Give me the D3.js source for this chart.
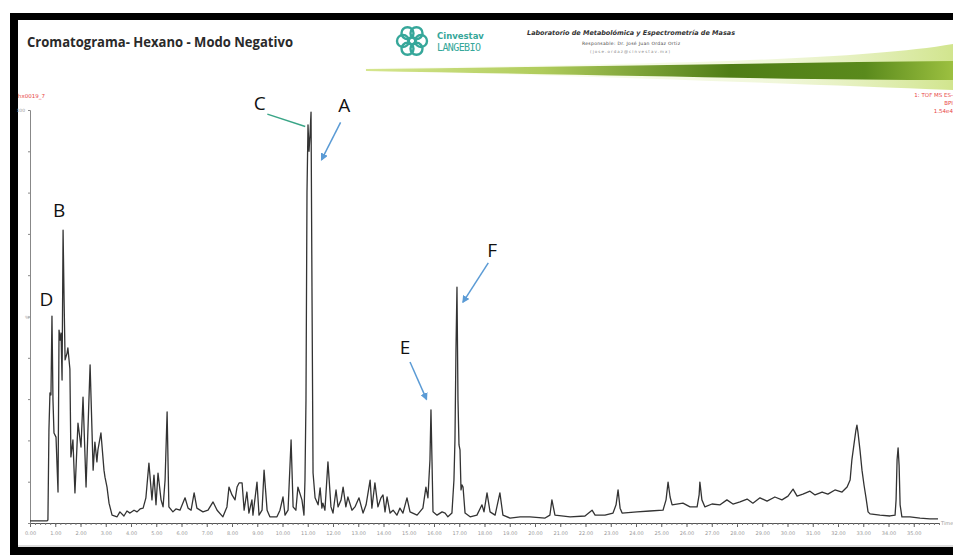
<!DOCTYPE html>
<html>
<head>
<meta charset="utf-8">
<script src="https://cdn.jsdelivr.net/npm/d3@7"></script>
<style>
  body { margin: 0; background: #fff; }
  svg { display: block; }
</style>
</head>
<body>
<svg id="chart" width="953" height="556"></svg>
<script>
// retention time (min) and relative intensity (%)
const rtTime = [
  0.00, 0.67, 0.71, 0.75, 0.79, 0.83, 0.87, 0.91, 0.95, 1.03, 1.11, 1.15, 1.19, 1.23, 1.27, 1.31, 1.35, 1.39,
  1.47, 1.50, 1.58, 1.62, 1.70, 1.78, 1.90, 2.02, 2.10, 2.22, 2.38, 2.50, 2.57, 2.65, 2.69, 2.81, 2.93, 2.97,
  3.05, 3.13, 3.25, 3.45, 3.56, 3.72, 3.84, 3.96, 4.12, 4.24, 4.36, 4.48, 4.59, 4.71, 4.83, 4.91, 4.99, 5.07,
  5.19, 5.27, 5.35, 5.43, 5.50, 5.66, 5.78, 5.94, 6.14, 6.26, 6.38, 6.50, 6.61, 6.85, 7.05, 7.25, 7.41, 7.64,
  7.80, 7.88, 8.00, 8.12, 8.20, 8.28, 8.40, 8.48, 8.59, 8.67, 8.79, 8.83, 8.99, 9.07, 9.19, 9.27, 9.39, 9.50,
  9.78, 9.90, 10.02, 10.10, 10.22, 10.34, 10.42, 10.53, 10.61, 10.77, 10.85, 10.89, 10.93, 10.97, 11.01, 11.05,
  11.09, 11.13, 11.17, 11.21, 11.29, 11.41, 11.49, 11.56, 11.60, 11.68, 11.80, 11.92, 12.00, 12.12, 12.20,
  12.32, 12.40, 12.51, 12.59, 12.75, 12.87, 13.03, 13.19, 13.31, 13.47, 13.54, 13.66, 13.78, 13.90, 13.98,
  14.06, 14.14, 14.26, 14.38, 14.53, 14.65, 14.77, 14.93, 15.05, 15.33, 15.56, 15.68, 15.76, 15.84, 15.88,
  15.92, 15.96, 16.12, 16.32, 16.44, 16.55, 16.71, 16.79, 16.83, 16.87, 16.91, 16.95, 16.99, 17.03, 17.07,
  17.11, 17.15, 17.23, 17.43, 17.70, 17.90, 17.98, 18.10, 18.22, 18.42, 18.61, 18.73, 19.01, 19.41, 19.80,
  20.40, 20.59, 20.67, 20.79, 21.39, 21.98, 22.26, 22.38, 22.77, 23.09, 23.21, 23.29, 23.37, 23.45, 24.04,
  24.55, 25.07, 25.19, 25.27, 25.35, 25.43, 25.86, 26.14, 26.42, 26.50, 26.53, 26.61, 26.73, 27.01, 27.33,
  27.60, 27.84, 28.12, 28.40, 28.63, 28.91, 29.19, 29.50, 29.78, 30.02, 30.22, 30.38, 30.61, 30.89, 31.09,
  31.37, 31.60, 31.88, 32.16, 32.36, 32.48, 32.55, 32.63, 32.71, 32.75, 32.79, 32.87, 32.95, 33.03, 33.11,
  33.19, 33.27, 33.66, 34.06, 34.26, 34.30, 34.34, 34.38, 34.42, 34.46, 34.53, 34.85, 35.25, 35.64, 35.96
];
const intensity = [
  0.5, 0.5, 0.7, 22.5, 31.5, 31.0, 50.1, 29.8, 21.8, 20.8, 7.5, 46.7, 44.3, 46.0, 34.6, 70.9, 54.0, 39.5,
  41.2, 42.4, 37.3, 16.0, 20.1, 7.3, 24.2, 18.4, 30.5, 8.7, 38.3, 12.8, 19.6, 14.8, 17.7, 21.8, 12.8, 11.1,
  8.7, 4.8, 1.9, 1.5, 2.7, 1.7, 2.9, 2.4, 3.1, 2.7, 3.4, 3.6, 6.1, 14.5, 5.6, 11.6, 4.4, 12.1,
  5.6, 3.9, 10.4, 26.9, 3.9, 2.7, 3.4, 3.1, 6.1, 3.6, 3.1, 7.3, 3.6, 2.7, 3.1, 5.1, 3.1, 1.5,
  3.9, 8.7, 6.8, 5.6, 8.7, 9.7, 9.7, 3.1, 7.5, 2.4, 5.6, 1.9, 9.9, 1.9, 3.1, 12.8, 3.1, 1.5,
  1.5, 3.1, 6.3, 1.9, 3.1, 20.1, 3.9, 3.1, 8.7, 5.6, 1.9, 10.4, 29.8, 80.0, 96.4, 90.0,
  94.0, 99.5, 54.0, 12.1, 6.1, 4.4, 8.5, 3.6, 4.8, 3.1, 14.8, 3.9, 2.4, 8.0, 3.9,
  5.6, 8.7, 3.9, 6.3, 3.1, 3.9, 6.1, 2.4, 4.4, 10.4, 3.6, 9.7, 3.9, 6.1, 6.8,
  2.7, 6.3, 2.4, 3.1, 1.9, 3.6, 2.4, 6.1, 2.7, 1.9, 3.6, 8.7, 6.1, 15.3, 27.4,
  15.3, 2.7, 1.9, 2.7, 2.4, 1.5, 2.4, 10.4, 20.1, 41.9, 57.1, 29.8, 18.9, 17.7, 8.0,
  9.2, 8.7, 2.4, 1.5, 1.9, 4.4, 2.7, 7.3, 2.7, 1.9, 7.3, 1.9, 1.2, 1.5, 1.5,
  1.2, 1.9, 5.6, 1.9, 1.5, 1.7, 3.1, 1.9, 1.9, 2.4, 4.4, 8.0, 3.6, 2.4, 2.7,
  2.9, 3.1, 5.6, 9.9, 6.3, 4.4, 4.8, 3.9, 3.9, 6.8, 9.9, 5.6, 3.9, 4.6, 4.4,
  5.6, 4.6, 5.1, 5.8, 4.8, 6.1, 5.3, 6.3, 5.6, 6.5, 8.2, 6.5, 7.0, 7.7, 6.8,
  7.5, 7.0, 8.0, 7.5, 8.7, 10.4, 15.3, 18.9, 22.5, 23.7, 22.0, 17.7, 12.8, 9.2, 6.1,
  2.7, 2.2, 1.9, 1.7, 1.9, 5.6, 15.3, 18.2, 14.0, 4.4, 1.5, 1.5, 1.2, 1.0, 1.0
];

const xTicks = d3.range(0, 36, 1);
const xMinorTicks = d3.range(0, 36.01, 0.2);
const yTicks = d3.range(0, 101, 10);

// peak annotations: label, label position (time, %), arrow tip (time, %)
const peakLabels = ["A", "B", "C", "D", "E", "F"];
const labelAt = [[12.45, 99.6], [1.15, 74], [9.1, 100], [0.65, 52.5], [14.85, 41], [18.3, 64.5]];
const tipAt = [[11.55, 88], null, [10.9, 96], null, [15.7, 30], [17.15, 53.5]];
const leaderFrom = [[12.3, 97], null, [9.4, 99], null, [15.05, 39], [18.15, 63]];

const svg = d3.select("#chart");
const x = d3.scaleLinear().domain([0, 36]).range([30, 939]);
const y = d3.scaleLinear().domain([0, 100]).range([523, 110]);

// frame (open on the right, as in the cropped screenshot)
svg.append("rect").attr("x", 10).attr("y", 13).attr("width", 943).attr("height", 7).attr("fill", "#000");
svg.append("rect").attr("x", 10).attr("y", 13).attr("width", 8).attr("height", 542).attr("fill", "#000");
svg.append("rect").attr("x", 10).attr("y", 547).attr("width", 943).attr("height", 8).attr("fill", "#000");
svg.append("line").attr("x1", 18).attr("x2", 953).attr("y1", 546).attr("y2", 546)
  .attr("stroke", "#bbb").attr("stroke-width", 1);

// header
svg.append("text").attr("x", 27).attr("y", 47)
  .attr("font-family", "Open Sans, sans-serif").attr("font-weight", "bold").attr("font-size", 13.5)
  .attr("fill", "#2a2a2a").attr("textLength", 266).attr("lengthAdjust", "spacingAndGlyphs")
  .text("Cromatograma- Hexano - Modo Negativo");

const defs = svg.append("defs");
const glow = defs.append("linearGradient").attr("id", "glow").attr("x1", "0%").attr("x2", "100%");
glow.append("stop").attr("offset", "0%").attr("stop-color", "#eef5d0").attr("stop-opacity", 0.1);
glow.append("stop").attr("offset", "70%").attr("stop-color", "#e2efb5").attr("stop-opacity", 0.5);
glow.append("stop").attr("offset", "100%").attr("stop-color", "#c9e07a").attr("stop-opacity", 0.85);
const band = defs.append("linearGradient").attr("id", "band").attr("x1", "0%").attr("x2", "100%");
band.append("stop").attr("offset", "0%").attr("stop-color", "#d6e68f");
band.append("stop").attr("offset", "30%").attr("stop-color", "#b0cc5c");
band.append("stop").attr("offset", "62%").attr("stop-color", "#4f7d16");
band.append("stop").attr("offset", "85%").attr("stop-color", "#5a8a1c");
band.append("stop").attr("offset", "100%").attr("stop-color", "#9cc040");

svg.append("path")
  .attr("d", "M365,68 C600,65 850,62 953,44 L953,90 C800,84 600,76 365,71 Z")
  .attr("fill", "url(#glow)");
svg.append("path")
  .attr("d", "M366,69 C560,67 760,63 953,61 L953,80 C800,80 600,75 366,71 Z")
  .attr("fill", "url(#band)");

// logo
const logo = svg.append("g").attr("transform", "translate(412,41)");
d3.range(6).forEach(i => {
  const a = i * Math.PI / 3;
  logo.append("circle").attr("cx", 9 * Math.cos(a)).attr("cy", 9 * Math.sin(a)).attr("r", 6)
    .attr("fill", "none").attr("stroke", "#36a79a").attr("stroke-width", 2.4);
});
logo.append("circle").attr("r", 4).attr("fill", "none").attr("stroke", "#36a79a").attr("stroke-width", 2);
svg.append("text").attr("x", 437).attr("y", 39).attr("font-family", "DejaVu Sans, sans-serif")
  .attr("font-size", 8.5).attr("font-weight", "bold").attr("fill", "#36a79a").text("Cinvestav");
svg.append("text").attr("x", 437).attr("y", 51).attr("font-family", "DejaVu Sans Mono, monospace")
  .attr("font-size", 10).attr("fill", "#36a79a").attr("textLength", 44).text("LANGEBIO");

svg.append("text").attr("x", 527).attr("y", 35).attr("font-family", "DejaVu Sans, sans-serif")
  .attr("font-size", 6.5).attr("font-style", "italic").attr("font-weight", "bold").attr("fill", "#333")
  .attr("textLength", 208).text("Laboratorio de Metabolómica y Espectrometría de Masas");
svg.append("text").attr("x", 582).attr("y", 45).attr("font-family", "DejaVu Sans, sans-serif")
  .attr("font-size", 4.5).attr("fill", "#444").attr("textLength", 98).text("Responsable: Dr. José Juan Ordaz Ortiz");
svg.append("text").attr("x", 590).attr("y", 53).attr("font-family", "DejaVu Sans, sans-serif")
  .attr("font-size", 4).attr("fill", "#888").attr("textLength", 80).text("(jose.ordaz@cinvestav.mx)");

// instrument captions
svg.append("text").attr("x", 18).attr("y", 98).attr("font-family", "DejaVu Sans, sans-serif")
  .attr("font-size", 5.5).attr("fill", "#e84545").text("hx0019_7");
const rightCap = ["1: TOF MS ES-", "BPI", "1.54e4"];
rightCap.forEach((t, i) => {
  svg.append("text").attr("x", 953).attr("y", 97 + i * 8).attr("text-anchor", "end")
    .attr("font-family", "DejaVu Sans, sans-serif").attr("font-size", 5.5).attr("fill", "#e84545").text(t);
});

// axes
const gx = svg.append("g").attr("transform", `translate(0,${y(0)})`)
  .call(d3.axisBottom(x).tickValues(xMinorTicks).tickSize(2).tickFormat(""));
gx.select(".domain").attr("stroke", "#555");
gx.selectAll(".tick line").attr("stroke", "#777");
const gx2 = svg.append("g").attr("transform", `translate(0,${y(0)})`)
  .call(d3.axisBottom(x).tickValues(xTicks).tickSize(4).tickPadding(4).tickFormat(d3.format(".2f")));
gx2.select(".domain").remove();
gx2.selectAll(".tick line").attr("stroke", "#666");
gx2.selectAll("text").attr("font-family", "DejaVu Sans, sans-serif").attr("font-size", 5).attr("fill", "#999");
svg.append("text").attr("x", 941).attr("y", y(0) + 2).attr("font-family", "DejaVu Sans, sans-serif")
  .attr("font-size", 5).attr("fill", "#999").text("Time");

const gy = svg.append("g").attr("transform", `translate(${x(0)},0)`)
  .call(d3.axisLeft(y).tickValues(yTicks).tickSize(2).tickFormat(d => d === 100 ? "100" : ""));
gy.select(".domain").attr("stroke", "#888");
gy.selectAll(".tick line").attr("stroke", "#888");
gy.selectAll("text").attr("font-family", "DejaVu Sans, sans-serif").attr("font-size", 4.5).attr("fill", "#999");
svg.append("text").attr("x", 25).attr("y", y(50) + 2).attr("font-family", "DejaVu Sans, sans-serif")
  .attr("font-size", 4.5).attr("fill", "#999").text("%");

// chromatogram trace
const trace = rtTime.map((t, i) => ({ t, v: intensity[i] }));
svg.append("path").datum(trace)
  .attr("fill", "none").attr("stroke", "#333").attr("stroke-width", 1.3)
  .attr("stroke-linejoin", "round")
  .attr("d", d3.line().x(d => x(d.t)).y(d => y(d.v)));

// annotations
defs.append("marker").attr("id", "head").attr("viewBox", "0 0 10 10").attr("refX", 8).attr("refY", 5)
  .attr("markerWidth", 5).attr("markerHeight", 5).attr("orient", "auto")
  .append("path").attr("d", "M0,0 L10,5 L0,10 Z").attr("fill", "#5b9bd5");

peakLabels.forEach((lab, i) => {
  const [lt, lv] = labelAt[i];
  svg.append("text").attr("x", x(lt)).attr("y", y(lv)).attr("text-anchor", "middle")
    .attr("font-family", "Open Sans, sans-serif").attr("font-size", 19).attr("fill", "#111").text(lab);
  if (tipAt[i]) {
    const isC = lab === "C";
    svg.append("line")
      .attr("x1", x(leaderFrom[i][0])).attr("y1", y(leaderFrom[i][1]))
      .attr("x2", x(tipAt[i][0])).attr("y2", y(tipAt[i][1]))
      .attr("stroke", isC ? "#3aa587" : "#5b9bd5").attr("stroke-width", 1.5)
      .attr("marker-end", isC ? null : "url(#head)");
  }
});
</script>
</body>
</html>
